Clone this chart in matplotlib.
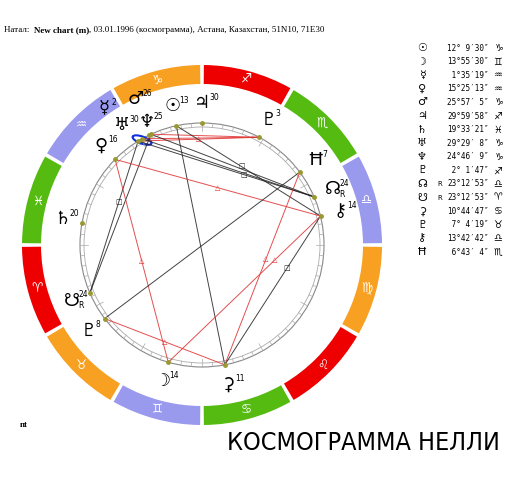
import numpy as np
import matplotlib.pyplot as plt
from matplotlib.patches import Wedge, Circle, Ellipse

plt.rcParams['font.family'] = ['DejaVu Sans']

# ---- data ----
names = ['Sun', 'Moon', 'Mercury', 'Venus', 'Mars', 'Jupiter', 'Saturn', 'Uranus',
         'Neptune', 'Pluto', 'NNode', 'SNode', 'Ceres', 'Pallas', 'Chiron', 'Hygiea']
glyphs = ['☉', '☽', '☿', '♀', '♂', '♃', '♄', '♅', '♆', '♇', '☊', '☋', '⚳', '♇', '⚷', 'Ħ']
deg_txt = ["12° 9′30″", "13°55′30″", " 1°35′19″", "15°25′13″", "25°57′ 5″", "29°59′58″",
           "19°33′21″", "29°29′ 8″", "24°46′ 9″", " 2° 1′47″", "23°12′53″", "23°12′53″",
           "10°44′47″", " 7° 4′19″", "13°42′42″", " 6°43′ 4″"]
sign_idx = [9, 2, 10, 10, 9, 8, 11, 9, 9, 8, 6, 0, 3, 1, 6, 7]
deg_in_sign = [12.16, 13.93, 1.59, 15.42, 25.95, 29.999, 19.56, 29.49, 24.77, 2.03,
               23.21, 23.21, 10.75, 7.07, 13.71, 6.72]
retro = ['', '', '', '', '', '', '', '', '', '', 'R', 'R', '', '', '', '']
zodiac = ['♈', '♉', '♊', '♋', '♌', '♍', '♎', '♏', '♐', '♑', '♒', '♓']
element_col = ['#ee0000', '#f7a021', '#9999ee', '#55bb11']

# (planet a, planet b, colour, where the aspect marker sits along the line or None)
aspects = [('Mercury', 'Pluto', 'r', 0.5), ('Neptune', 'Pluto', 'r', None), ('Uranus', 'Pluto', 'r', None),
           ('Mercury', 'NNode', 'k', 0.6), ('Neptune', 'NNode', 'k', None), ('Uranus', 'NNode', 'k', None),
           ('Mercury', 'SNode', 'k', 0.4), ('Neptune', 'SNode', 'k', None),
           ('Sun', 'Ceres', 'k', None), ('Sun', 'Chiron', 'k', 0.45),
           ('Venus', 'Chiron', 'r', 0.5), ('Venus', 'Moon', 'r', 0.5),
           ('Hygiea', 'Pallas', 'k', None), ('Hygiea', 'Ceres', 'r', 0.45),
           ('Chiron', 'Moon', 'r', 0.3), ('Chiron', 'Ceres', 'k', 0.35), ('Pallas', 'Ceres', 'r', 0.5)]

lon = {n: sign_idx[i] * 30 + deg_in_sign[i] for i, n in enumerate(names)}

fig = plt.figure(figsize=(5.13, 4.78), dpi=100)
ax = fig.add_axes([0, 0, 1, 1])
ax.set_xlim(0, 513)
ax.set_ylim(478, 0)
ax.set_aspect('equal')
ax.axis('off')

cx, cy = 202, 245
R_out, R_in, R_c = 180, 161, 122


def pos(l, r):
    a = np.radians(180 + l)
    return cx + r * np.cos(a), cy - r * np.sin(a)


# zodiac ring (y axis inverted -> use negative angles)
for k in range(12):
    a0 = 180 + 30 * k
    ax.add_patch(Wedge((cx, cy), R_out, -(a0 + 30) + 0.6, -a0 - 0.6, width=R_out - R_in,
                       color=element_col[k % 4], lw=0))
    x, y = pos(30 * k + 15, (R_out + R_in) / 2)
    ax.text(x, y, zodiac[k], color='white', fontsize=9, ha='center', va='center')

# inner circles and ticks
ax.add_patch(Circle((cx, cy), R_c, fill=False, ec='#888888', lw=0.8))
ax.add_patch(Circle((cx, cy), R_c - 4, fill=False, ec='#aaaaaa', lw=0.6))
for d in range(0, 360, 5):
    r2 = R_c - (4 if d % 30 else 8)
    x1, y1 = pos(d, R_c)
    x2, y2 = pos(d, r2)
    ax.plot([x1, x2], [y1, y2], color='#aaaaaa', lw=0.5)

# aspects
for a, b, c, f in aspects:
    x1, y1 = pos(lon[a], R_c)
    x2, y2 = pos(lon[b], R_c)
    col = '#e03030' if c == 'r' else '#222222'
    ax.plot([x1, x2], [y1, y2], color=col, lw=0.7, alpha=0.85)
    if f is not None:
        mx, my = x1 + f * (x2 - x1), y1 + f * (y2 - y1)
        ax.text(mx, my, '△' if c == 'r' else '□', color=col, fontsize=5, ha='center', va='center')

# conjunction oval
x1, y1 = pos(lon['Mercury'], R_c)
ax.add_patch(Ellipse((x1 + 4, y1 - 1), 20, 7, angle=20, fill=False, ec='#1030dd', lw=1.5))

# planet glyphs
label_r = {n: 142 for n in names}
label_r.update({'Mercury': 160, 'Mars': 160, 'Uranus': 142, 'Neptune': 142})
shift = {'Mercury': (-14, 0), 'Mars': (4, -2), 'Uranus': (-10, 4), 'Neptune': (4, 6)}
for i, n in enumerate(names):
    x, y = pos(lon[n], R_c)
    ax.plot(x, y, 'o', ms=2.5, color='#999933')
    gx, gy = pos(lon[n], label_r[n])
    dx, dy = shift.get(n, (0, 0))
    ax.text(gx + dx, gy + dy, glyphs[i], fontsize=13, ha='center', va='center')
    ax.text(gx + dx + 7, gy + dy - 6, str(int(np.ceil(deg_in_sign[i]))), fontsize=5.5,
            ha='left', va='center')
    if retro[i]:
        ax.text(gx + dx + 7, gy + dy + 5, 'R', fontsize=5.5, ha='left', va='center')

# table
for i in range(len(names)):
    y = 48 + i * 13.6
    ax.text(422, y, glyphs[i], fontsize=8, ha='center', va='center')
    if retro[i]:
        ax.text(440, y, 'R', fontsize=5, ha='center', va='center')
    ax.text(489, y, deg_txt[i], fontsize=5.5, ha='right', va='center', family='DejaVu Sans Mono')
    ax.text(498, y, zodiac[sign_idx[i]], fontsize=7, ha='center', va='center')

# header / footer
fig.canvas.draw()
r = fig.canvas.get_renderer()
x = 4
for txt, w in [('Натал: ', 'normal'), ('New chart (m)', 'bold'),
               (', 03.01.1996 (космограмма), Астана, Казахстан, 51N10, 71E30', 'normal')]:
    t = ax.text(x, 30, txt, fontsize=6.5, family='Liberation Serif', weight=w, va='center')
    bb = t.get_window_extent(r)
    x += bb.width * 513 / fig.bbox.width + (2 if txt.startswith('Н') else 0)
ax.text(20, 425, 'nt', fontsize=6.5, family='Liberation Serif', weight='bold', va='center')
ax.text(500, 443, 'КОСМОГРАММА НЕЛЛИ', fontsize=18, ha='right', va='center',
        family='DejaVu Sans', stretch='condensed')

fig.savefig('out.png', dpi=100)
